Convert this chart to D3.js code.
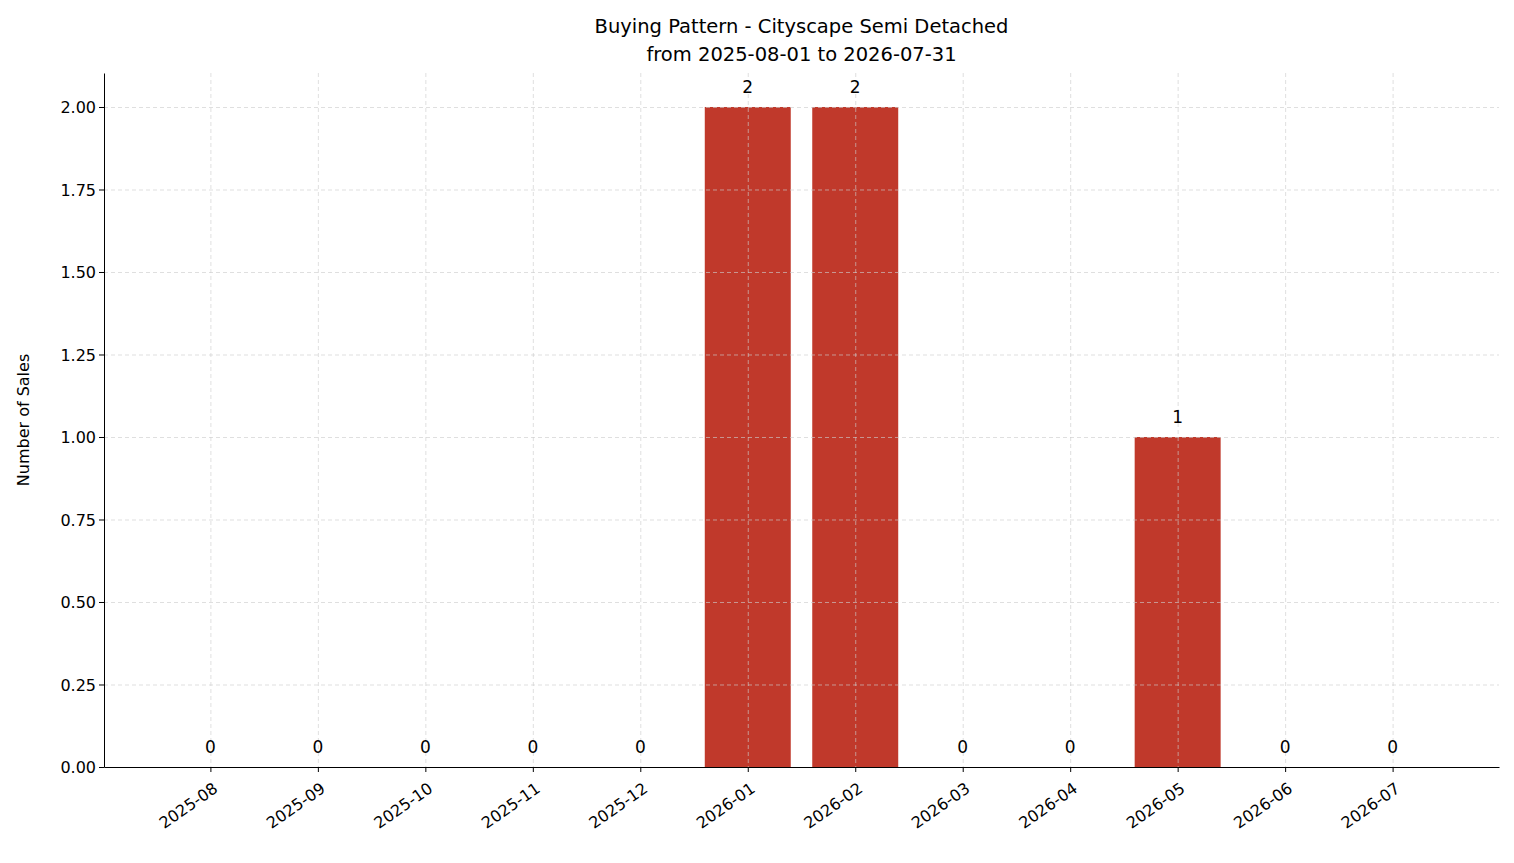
<!DOCTYPE html>
<html>
<head>
<meta charset="utf-8">
<script src="https://cdn.jsdelivr.net/npm/d3@7"></script>
<style>
  body { margin: 0; background: #fff; }
  text { font-family: "DejaVu Sans", sans-serif; fill: #000; }
  .grid line { stroke: #cccccc; stroke-dasharray: 4,3; stroke-width: 0.8; opacity: 0.8; }
  .grid .domain { display: none; }
</style>
</head>
<body>
<div id="chart"></div>
<script>
let months = ['2025-08', '2025-09', '2025-10', '2025-11', '2025-12', '2026-01',
  '2026-02', '2026-03', '2026-04', '2026-05', '2026-06', '2026-07'];
let sales = [0, 0, 0, 0, 0, 2, 2, 0, 0, 1, 0, 0];
let yTicks = [0, 0.25, 0.5, 0.75, 1.0, 1.25, 1.5, 1.75, 2.0];
let barColor = '#c0392b';

let W = 1514, H = 863;
let margin = { top: 73, right: 15, bottom: 96, left: 104 };

const svg = d3.select('#chart').append('svg')
  .attr('width', W).attr('height', H);

// matplotlib-like x limits: bars at 0..11, width 0.8, 5% margins
let x = d3.scaleLinear().domain([-0.99, 11.99]).range([margin.left, W - margin.right]);
let y = d3.scaleLinear().domain([0, 2.103]).range([H - margin.bottom, margin.top]);
let bw = x(0.8) - x(0);

// bars
svg.append('g').selectAll('rect').data(sales).join('rect')
  .attr('x', (d, i) => x(i - 0.4))
  .attr('y', d => y(d))
  .attr('width', bw)
  .attr('height', d => y(0) - y(d))
  .attr('fill', barColor);

// grid on top
svg.append('g').attr('class', 'grid')
  .attr('transform', `translate(${margin.left},0)`)
  .call(d3.axisLeft(y).tickValues(yTicks).tickSize(-(W - margin.left - margin.right)).tickFormat(''));
svg.append('g').attr('class', 'grid')
  .attr('transform', `translate(0,${margin.top})`)
  .call(d3.axisBottom(x).tickValues(d3.range(12)).tickSize(H - margin.top - margin.bottom).tickFormat(''));

// axes
let yAxis = svg.append('g').attr('transform', `translate(${margin.left},0)`)
  .attr('font-size', null)
  .call(d3.axisLeft(y).tickValues(yTicks).tickFormat(d3.format('.2f')).tickSize(5).tickSizeOuter(0));
yAxis.attr('font-size', 16).attr('font-family', null);
yAxis.selectAll('text').attr('dy', '0.35em');

let xAxis = svg.append('g').attr('transform', `translate(0,${H - margin.bottom})`)
  .call(d3.axisBottom(x).tickValues(d3.range(12)).tickFormat(i => months[i]).tickSize(5).tickSizeOuter(0));
xAxis.attr('font-size', 16).attr('font-family', null);
xAxis.selectAll('text')
  .attr('text-anchor', 'end')
  .attr('x', 0).attr('y', 0)
  .attr('dx', '0').attr('dy', '0')
  .attr('transform', 'translate(8,24) rotate(-35)');
svg.selectAll('.domain').filter(function () { return !this.closest('.grid'); })
  .attr('stroke', '#000');

// value labels
svg.append('g').selectAll('text').data(sales).join('text')
  .attr('x', (d, i) => x(i))
  .attr('y', d => y(d) - 14)
  .attr('text-anchor', 'middle')
  .style('font-size', '17px')
  .text(d => d);

// title
svg.append('text').attr('x', (margin.left + W - margin.right) / 2).attr('y', 33)
  .attr('text-anchor', 'middle').style('font-size', '19.5px')
  .text('Buying Pattern - Cityscape Semi Detached');
svg.append('text').attr('x', (margin.left + W - margin.right) / 2).attr('y', 61)
  .attr('text-anchor', 'middle').style('font-size', '19.5px')
  .text('from 2025-08-01 to 2026-07-31');

// y label
svg.append('text')
  .attr('transform', `translate(29,${(margin.top + H - margin.bottom) / 2}) rotate(-90)`)
  .attr('text-anchor', 'middle').style('font-size', '16px')
  .text('Number of Sales');
</script>
</body>
</html>
